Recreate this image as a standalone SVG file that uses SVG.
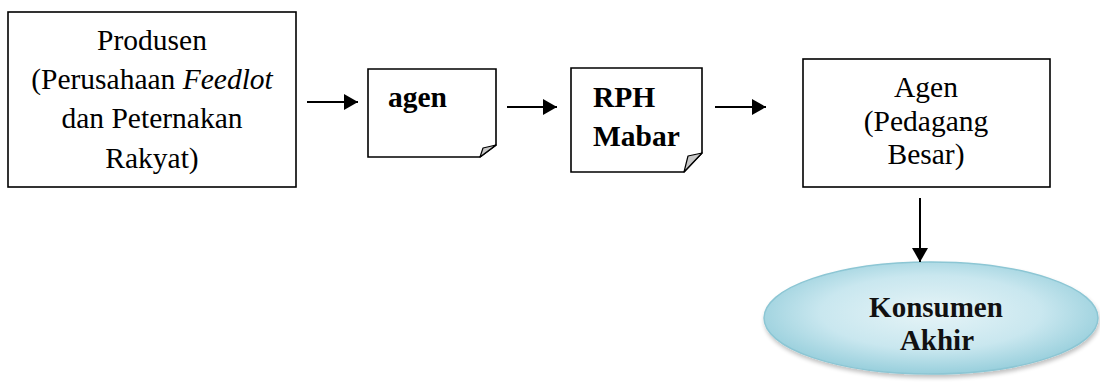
<svg xmlns="http://www.w3.org/2000/svg" width="1100" height="387" viewBox="0 0 1100 387">
  <style>
    .box { fill: #ffffff; stroke: #000000; stroke-width: 1.6; }
    .flap { fill: #c8c8c8; stroke: #000000; stroke-width: 1.2; stroke-linejoin: round; }
    .t { font-family: "Liberation Serif", "Times New Roman", serif; font-size: 29.5px; fill: #000000; }
    .tc { text-anchor: middle; }
    .b { font-weight: bold; }
    .conn { stroke: #000000; stroke-width: 2; fill: none; }
    .kt { font-family: "Liberation Serif", "Times New Roman", serif; font-size: 29px; font-weight: bold; fill: #111111; text-anchor: middle; }
  </style>
  <defs>
    <marker id="arr" viewBox="0 0 14 16" refX="14" refY="8" markerWidth="14" markerHeight="16" markerUnits="userSpaceOnUse" orient="auto">
      <path d="M0,0 L14,8 L0,16 Z" fill="#000000"/>
    </marker>
    <radialGradient id="eg" cx="0.5" cy="0.45" r="0.55">
      <stop offset="0" stop-color="#e6f4f7"/>
      <stop offset="0.6" stop-color="#c9e7ef"/>
      <stop offset="1" stop-color="#98cfdc"/>
    </radialGradient>
    <filter id="sh" x="-10%" y="-10%" width="120%" height="130%">
      <feGaussianBlur in="SourceAlpha" stdDeviation="2"/>
      <feOffset dx="1" dy="3" result="o"/>
      <feComponentTransfer><feFuncA type="linear" slope="0.25"/></feComponentTransfer>
      <feMerge><feMergeNode/><feMergeNode in="SourceGraphic"/></feMerge>
    </filter>
  </defs>

  <g id="produsen">
    <rect class="box" x="8" y="12" width="288" height="175"/>
    <text class="t tc" x="152" y="50">Produsen</text>
    <text class="t tc" x="152" y="89">(Perusahaan <tspan font-style="italic">Feedlot</tspan></text>
    <text class="t tc" x="152" y="128">dan Peternakan</text>
    <text class="t tc" x="152" y="168">Rakyat)</text>
  </g>

  <g id="agen">
    <path class="box" d="M368,69 L496,69 L496,145 L480,157 L368,157 Z"/>
    <path class="flap" d="M480,157 L496,145 L483,148 Z"/>
    <text class="t b" x="388" y="107">agen</text>
  </g>

  <g id="rph">
    <path class="box" d="M571,68 L702,68 L702,153 L684,172 L571,172 Z"/>
    <path class="flap" d="M684,172 L702,153 L688,156 Z"/>
    <text class="t b" x="593" y="107">RPH</text>
    <text class="t b" x="593" y="146">Mabar</text>
  </g>

  <g id="agen-besar">
    <rect class="box" x="803" y="59" width="247" height="128"/>
    <text class="t tc" x="926" y="97">Agen</text>
    <text class="t tc" x="926" y="131">(Pedagang</text>
    <text class="t tc" x="926" y="164">Besar)</text>
  </g>

  <g id="konsumen">
    <ellipse cx="931" cy="318" rx="167" ry="56" fill="url(#eg)" stroke="#8cc6d4" stroke-width="1.5" filter="url(#sh)"/>
    <text class="kt" x="936" y="317">Konsumen</text>
    <text class="kt" x="937" y="350">Akhir</text>
  </g>

  <g id="connectors">
    <line class="conn" x1="307" y1="102" x2="358" y2="102" marker-end="url(#arr)"/>
    <line class="conn" x1="507" y1="107" x2="557" y2="107" marker-end="url(#arr)"/>
    <line class="conn" x1="715" y1="107" x2="766" y2="107" marker-end="url(#arr)"/>
    <line class="conn" x1="920" y1="198" x2="920" y2="262" marker-end="url(#arr)"/>
  </g>
</svg>
